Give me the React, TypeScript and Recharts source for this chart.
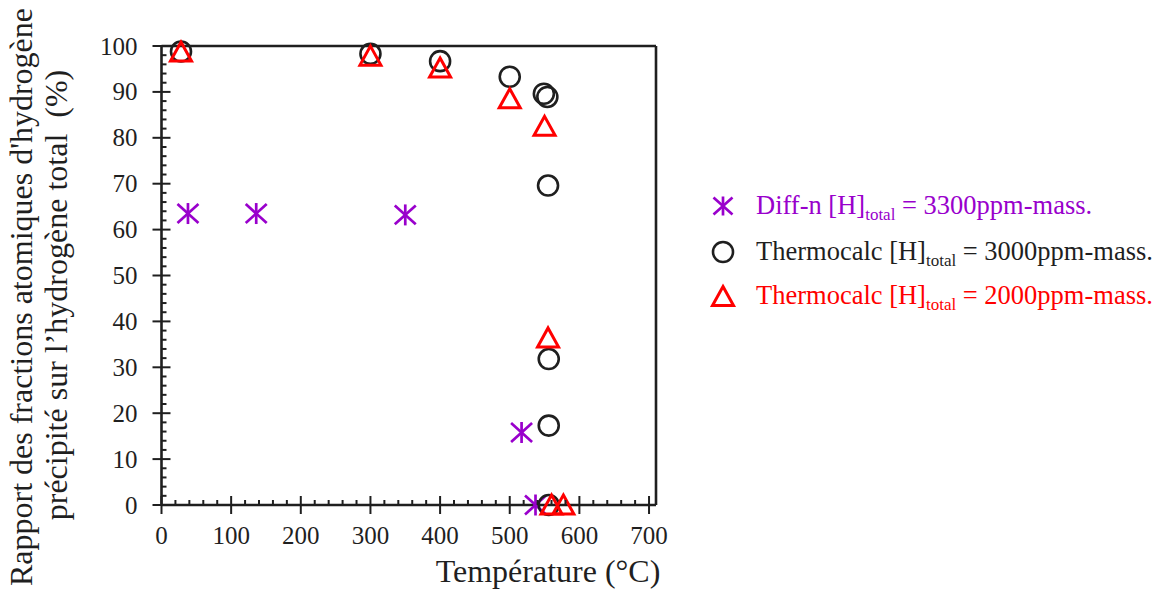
import { ReferenceLine, Scatter, ScatterChart, XAxis, YAxis } from "recharts";

const FONT = '"Liberation Serif", "Times New Roman", serif';
const INK = "#1f1f1f";
const PURPLE = "#9900CC";
const RED = "#FF0000";

// Diff-n, [H]total = 3300 ppm
const diffT = [38, 136, 350, 517, 537];
const diffR = [63.5, 63.5, 63.2, 15.8, 0];

// Thermocalc, [H]total = 3000 ppm
const tc3T = [28, 300, 400, 500, 549, 554, 555, 556, 556, 556];
const tc3R = [98.8, 98.3, 96.7, 93.3, 89.6, 88.9, 69.6, 31.8, 17.3, 0];

// Thermocalc, [H]total = 2000 ppm
const tc2T = [28, 300, 400, 500, 550, 555, 560, 577];
const tc2R = [98.8, 97.9, 95.3, 88.6, 82.6, 36.5, 0.1, 0.1];

const xTicks: number[] = [];
for (let v = 0; v <= 700; v += 20) xTicks.push(v);
const yTicks: number[] = [];
for (let v = 0; v <= 100; v += 2) yTicks.push(v);

const zip = (xs: number[], ys: number[]) => xs.map((t, i) => ({ t, r: ys[i] }));

const diffData = zip(diffT, diffR);
const tc3Data = zip(tc3T, tc3R);
const tc2Data = zip(tc2T, tc2R);

function Asterisk({ cx, cy, s = 10.5 }: { cx: number; cy: number; s?: number }) {
  return (
    <g stroke={PURPLE} strokeWidth={2.7}>
      <line x1={cx} y1={cy - s} x2={cx} y2={cy + s} />
      <line x1={cx - s} y1={cy - s * 0.9} x2={cx + s} y2={cy + s * 0.9} />
      <line x1={cx - s} y1={cy + s * 0.9} x2={cx + s} y2={cy - s * 0.9} />
    </g>
  );
}

function Ring({ cx, cy }: { cx: number; cy: number }) {
  return <circle cx={cx} cy={cy} r={10} fill="none" stroke={INK} strokeWidth={2.6} />;
}

function Tri({ cx, cy }: { cx: number; cy: number }) {
  const w = 10.5;
  const h = 9.5;
  return (
    <path
      d={`M${cx},${cy - h} L${cx + w},${cy + h} L${cx - w},${cy + h} Z`}
      fill="none"
      stroke={RED}
      strokeWidth={3}
    />
  );
}

function YTick(props: any) {
  const { x, y, payload } = props;
  const major = payload.value % 10 === 0;
  return (
    <g>
      <line x1={major ? x - 9 : x} x2={major ? x + 9 : x + 5} y1={y} y2={y} stroke={INK} strokeWidth={2} />
      {major ? (
        <text x={x - 24} y={y} dy="0.34em" textAnchor="end" fontSize={25} fontFamily={FONT} fill={INK}>
          {payload.value}
        </text>
      ) : null}
    </g>
  );
}

function XTick(props: any) {
  const { x, y, payload } = props;
  const major = payload.value % 100 === 0;
  return (
    <g>
      <line x1={x} x2={x} y1={major ? y - 9 : y - 5} y2={major ? y + 9 : y} stroke={INK} strokeWidth={2} />
      {major ? (
        <text x={x} y={y + 39} textAnchor="middle" fontSize={25} fontFamily={FONT} fill={INK}>
          {payload.value}
        </text>
      ) : null}
    </g>
  );
}

const legendRows = [
  { icon: "ast", color: PURPLE, pre: "Diff-n [H]", post: " = 3300ppm-mass." },
  { icon: "ring", color: INK, pre: "Thermocalc [H]", post: " = 3000ppm-mass." },
  { icon: "tri", color: RED, pre: "Thermocalc [H]", post: " = 2000ppm-mass." },
];

export default function App() {
  return (
    <div style={{ position: "absolute", left: 0, top: 0, width: 1170, height: 594, background: "#fff" }}>
      <ScatterChart width={1170} height={594} margin={{ top: 46, right: 514, bottom: 0, left: 100 }}>
        <XAxis
          dataKey="t"
          type="number"
          domain={[0, 710]}
          ticks={xTicks}
          interval={0}
          tick={<XTick />}
          tickLine={false}
          tickSize={0}
          tickMargin={0}
          height={89}
          axisLine={{ stroke: INK, strokeWidth: 2.6 }}
        />
        <YAxis
          dataKey="r"
          type="number"
          domain={[0, 100]}
          ticks={yTicks}
          interval={0}
          tick={<YTick />}
          tickLine={false}
          tickSize={0}
          tickMargin={0}
          width={61.5}
          axisLine={{ stroke: INK, strokeWidth: 2.6 }}
        />
        <ReferenceLine y={100} stroke={INK} strokeWidth={2.6} />
        <ReferenceLine x={710} stroke={INK} strokeWidth={2.6} />
        <Scatter data={diffData} isAnimationActive={false} shape={(p: any) => <Asterisk cx={p.cx} cy={p.cy} />} />
        <Scatter data={tc3Data} isAnimationActive={false} shape={(p: any) => <Ring cx={p.cx} cy={p.cy} />} />
        <Scatter data={tc2Data} isAnimationActive={false} shape={(p: any) => <Tri cx={p.cx} cy={p.cy} />} />
      </ScatterChart>

      <svg width={1170} height={594} style={{ position: "absolute", left: 0, top: 0, pointerEvents: "none" }}>
        <text x={548} y={582} textAnchor="middle" fontSize={32} fontFamily={FONT} fill={INK}>
          Température (°C)
        </text>
        <g transform="translate(32,297) rotate(-90)">
          <text x={0} y={0} textAnchor="middle" fontSize={32} fontFamily={FONT} fill={INK}>
            Rapport des fractions atomiques d'hydrogène
          </text>
        </g>
        <g transform="translate(67,295) rotate(-90)">
          <text x={0} y={0} textAnchor="middle" fontSize={32} fontFamily={FONT} fill={INK} style={{ whiteSpace: "pre" }}>
            précipité sur l’hydrogène total  (%)
          </text>
        </g>
        {legendRows.map((row, i) => {
          const cy = [206, 252, 296][i];
          return (
            <g key={i}>
              {row.icon === "ast" ? <Asterisk cx={723} cy={cy} s={9.5} /> : null}
              {row.icon === "ring" ? <Ring cx={723} cy={cy} /> : null}
              {row.icon === "tri" ? <Tri cx={723} cy={cy} /> : null}
              <text x={756} y={cy + 8} fontSize={26.5} fontFamily={FONT} fill={row.color}>
                {row.pre}
                <tspan fontSize={17} dy={6}>total</tspan>
                <tspan dy={-6}>{row.post}</tspan>
              </text>
            </g>
          );
        })}
      </svg>
    </div>
  );
}
